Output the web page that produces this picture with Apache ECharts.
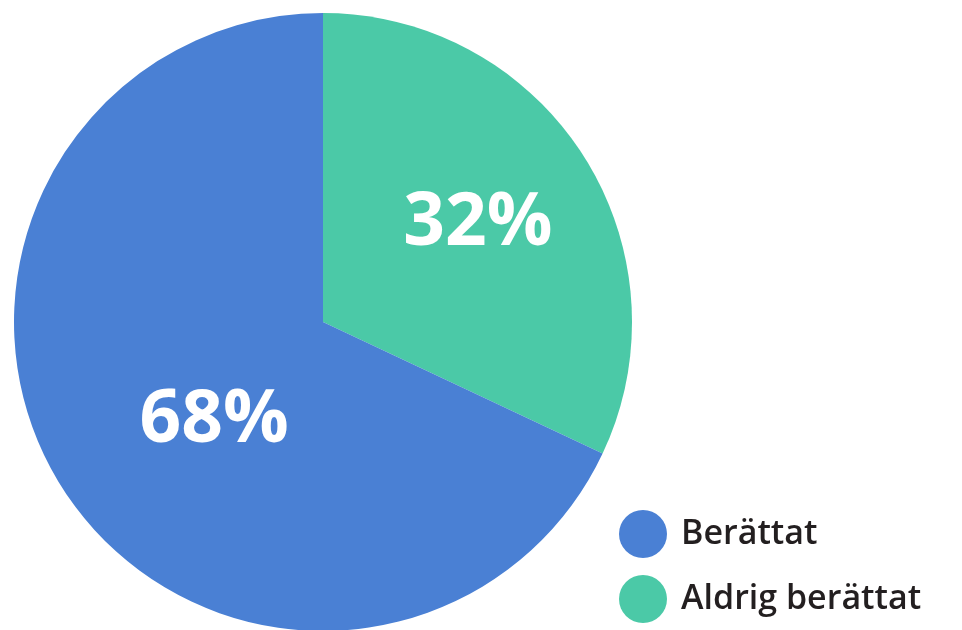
<!DOCTYPE html>
<html>
<head>
<meta charset="utf-8">
<script src="https://cdn.jsdelivr.net/npm/echarts@6/dist/echarts.min.js"></script>
<style>
  html, body { margin: 0; padding: 0; background: #fff; }
  #chart { width: 962px; height: 630px; }
</style>
</head>
<body>
<div id="chart"></div>
<script>
// pie drawn clockwise from 12 o'clock, green slice first
const categories = ['Aldrig berättat', 'Berättat'];
const values = [32, 68];
const legendOrder = ['Berättat', 'Aldrig berättat'];
const colors = ['#4bc9a7', '#4a80d4'];
// nudge each label from the default 'inside' spot
const labelOffsets = [[22, -13], [24, 15]];

let myChart = echarts.init(document.getElementById('chart'));

let option = {
  animation: false,
  legend: {
    data: legendOrder,
    orient: 'vertical',
    left: 619,
    top: 510,
    padding: 0,
    icon: 'circle',
    itemWidth: 48,
    itemHeight: 48,
    itemGap: 17,
    textStyle: {
      fontFamily: 'Open Sans',
      fontWeight: 600,
      fontSize: 34,
      color: '#231f20',
      padding: [0, 0, 0, 9]
    }
  },
  series: [
    {
      type: 'pie',
      center: [323, 322],
      radius: [0, 309],
      startAngle: 90,
      clockwise: true,
      silent: true,
      itemStyle: { borderWidth: 0 },
      label: {
        show: true,
        position: 'inside',
        formatter: '{c}%',
        color: '#fff',
        fontFamily: 'Open Sans',
        fontWeight: 'bold',
        fontSize: 73
      },
      labelLine: { show: false },
      data: categories.map((name, i) => ({
        name: name,
        value: values[i],
        itemStyle: { color: colors[i] },
        label: { offset: labelOffsets[i] }
      }))
    }
  ]
};

myChart.setOption(option);
</script>
</body>
</html>
